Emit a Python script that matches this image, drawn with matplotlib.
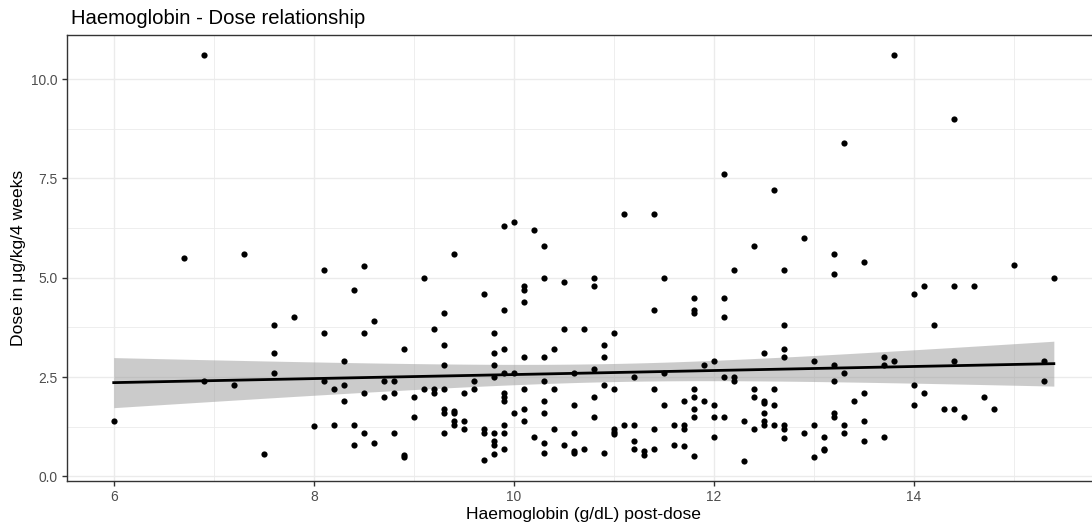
import numpy as np
import matplotlib
matplotlib.use("Agg")
import matplotlib.pyplot as plt
from matplotlib.ticker import MultipleLocator

plt.rcParams["font.family"] = ["Liberation Sans", "DejaVu Sans"]

# haemoglobin (g/dL), grouped by x value
hb_levels = [6.0, 6.7, 6.9, 7.2, 7.3, 7.5, 7.6, 7.8, 8.0, 8.1, 8.2, 8.3, 8.4, 8.5,
             8.6, 8.7, 8.8, 8.9, 9.0, 9.1, 9.2, 9.3, 9.4, 9.5, 9.6, 9.7, 9.8, 9.9,
             10.0, 10.1, 10.2, 10.3, 10.4, 10.5, 10.6, 10.7, 10.8, 10.9, 11.0,
             11.1, 11.2, 11.3, 11.4, 11.5, 11.6, 11.7, 11.8, 11.9, 12.0, 12.1,
             12.2, 12.3, 12.4, 12.5, 12.6, 12.7, 12.9, 13.0, 13.1, 13.2, 13.3,
             13.4, 13.5, 13.7, 13.8, 14.0, 14.1, 14.2, 14.3, 14.4, 14.5, 14.6,
             14.7, 14.8, 15.0, 15.3, 15.4]

# dose values (ug/kg/4 weeks) at each haemoglobin level
dose_groups = [
    [1.4],
    [5.5],
    [10.6, 2.4],
    [2.3],
    [5.6],
    [0.57],
    [3.8, 3.1, 2.6],
    [4.0],
    [1.27],
    [5.2, 3.6, 2.4],
    [2.2, 1.3],
    [2.9, 2.3, 1.9],
    [4.7, 1.3, 0.8],
    [5.3, 3.6, 2.1, 1.1],
    [3.9, 0.85],
    [2.4, 2.0],
    [2.4, 2.1, 1.1],
    [3.2, 0.55, 0.5],
    [2.0, 1.5],
    [5.0, 2.2],
    [3.7, 2.2, 2.1],
    [4.1, 3.3, 2.8, 2.2, 1.7, 1.6, 1.1],
    [5.6, 1.65, 1.6, 1.4, 1.3],
    [2.1, 1.4, 1.2],
    [2.4, 2.2],
    [4.6, 1.2, 1.1, 0.42],
    [3.6, 3.1, 2.8, 2.5, 1.1, 0.9, 0.8, 0.57],
    [6.3, 4.2, 3.2, 2.6, 2.1, 2.0, 1.9, 1.3, 1.1, 0.7],
    [6.4, 2.6, 1.6],
    [4.8, 4.7, 4.4, 3.0, 2.2, 1.7, 1.4],
    [6.2, 1.0],
    [5.8, 5.0, 3.0, 2.4, 1.9, 1.6, 0.85, 0.6],
    [3.2, 2.2, 1.2],
    [4.9, 3.7, 0.8],
    [2.6, 1.8, 1.1, 0.65, 0.6],
    [3.7, 0.7],
    [5.0, 4.8, 2.7, 2.0, 1.5],
    [3.3, 3.0, 2.3, 0.6],
    [3.6, 2.2, 1.2, 1.13, 1.06],
    [6.6, 1.3],
    [2.5, 1.3, 0.9, 0.7],
    [0.63, 0.55],
    [6.6, 4.2, 2.2, 1.2, 0.7],
    [5.0, 2.6, 1.8],
    [1.3, 0.8],
    [1.9, 1.3, 1.2, 0.77],
    [4.5, 4.2, 4.1, 2.2, 2.0, 1.7, 1.5, 0.52],
    [2.8, 1.9],
    [2.9, 1.8, 1.5, 1.0],
    [7.6, 4.5, 4.0, 2.5, 1.5],
    [5.2, 2.5, 2.4],
    [1.4, 0.4],
    [5.8, 2.2, 2.0, 1.2],
    [3.1, 1.9, 1.85, 1.6, 1.4, 1.3],
    [7.2, 2.2, 1.8, 1.3],
    [5.2, 3.8, 3.2, 3.0, 1.3, 1.2, 0.97],
    [6.0, 1.1],
    [2.9, 1.3, 0.5],
    [1.0, 0.69, 0.66],
    [5.6, 5.1, 2.8, 2.4, 1.6, 1.5],
    [8.4, 2.6, 1.3, 1.1],
    [1.9],
    [5.4, 2.1, 1.4, 0.9],
    [3.0, 2.8, 1.0],
    [10.6, 2.9],
    [4.6, 2.3, 1.8],
    [4.8, 2.1],
    [3.8],
    [1.7],
    [9.0, 4.8, 2.9, 1.7],
    [1.5],
    [4.8],
    [2.0],
    [1.7],
    [5.33],
    [2.9, 2.4],
    [5.0],
]

y_ticks = [0.0, 2.5, 5.0, 7.5, 10.0]
x_ticks = [6, 8, 10, 12, 14]

hb = np.array([h for h, g in zip(hb_levels, dose_groups) for _ in g])
dose = np.array([d for g in dose_groups for d in g])

# linear fit with 95% confidence band (like geom_smooth(method = "lm"))
n = len(hb)
slope, intercept = np.polyfit(hb, dose, 1)
resid = dose - (intercept + slope * hb)
s = np.sqrt(np.sum(resid ** 2) / (n - 2))
xfit = np.linspace(hb.min(), hb.max(), 100)
yfit = intercept + slope * xfit
se = s * np.sqrt(1 / n + (xfit - hb.mean()) ** 2 / np.sum((hb - hb.mean()) ** 2))
tcrit = 1.97

fig = plt.figure(figsize=(10.92, 5.27), dpi=100)
ax = fig.add_axes([0.0611, 0.0877, 0.947, 0.846])

ax.fill_between(xfit, yfit - tcrit * se, yfit + tcrit * se, color="#999999",
                alpha=0.5, linewidth=0, zorder=2)
ax.scatter(hb, dose, s=20, color="black", linewidths=0, zorder=3)
ax.plot(xfit, yfit, color="black", linewidth=2.0, zorder=4)

# ggplot style 5% expansion
xr = hb.max() - hb.min()
yr = dose.max() - dose.min()
ax.set_xlim(hb.min() - 0.05 * xr, hb.max() + 0.05 * xr)
ax.set_ylim(dose.min() - 0.05 * yr, dose.max() + 0.05 * yr)

ax.set_xticks(x_ticks)
ax.set_yticks(y_ticks)
ax.set_yticklabels([f"{v:.1f}" for v in y_ticks])
ax.xaxis.set_minor_locator(MultipleLocator(1))
ax.yaxis.set_minor_locator(MultipleLocator(1.25))
ax.grid(which="major", color="#EBEBEB", linewidth=1.0, zorder=0)
ax.grid(which="minor", color="#EBEBEB", linewidth=0.6, zorder=0)
ax.set_axisbelow(True)
ax.tick_params(which="minor", length=0)
ax.tick_params(which="major", length=3.5, width=1.0, color="#333333",
               labelcolor="#4D4D4D", labelsize=9.9, pad=3)
for sp in ax.spines.values():
    sp.set_color("#333333")
    sp.set_linewidth(1.0)

ax.set_xlabel("Haemoglobin (g/dL) post-dose", fontsize=12.6, labelpad=2)
ax.set_ylabel("Dose in \u03bcg/kg/4 weeks", fontsize=12.6, labelpad=3.5)
ax.set_title("Haemoglobin - Dose relationship", fontsize=14.6, loc="left",
             x=0.004, pad=8)

fig.savefig("out.png", dpi=100)
